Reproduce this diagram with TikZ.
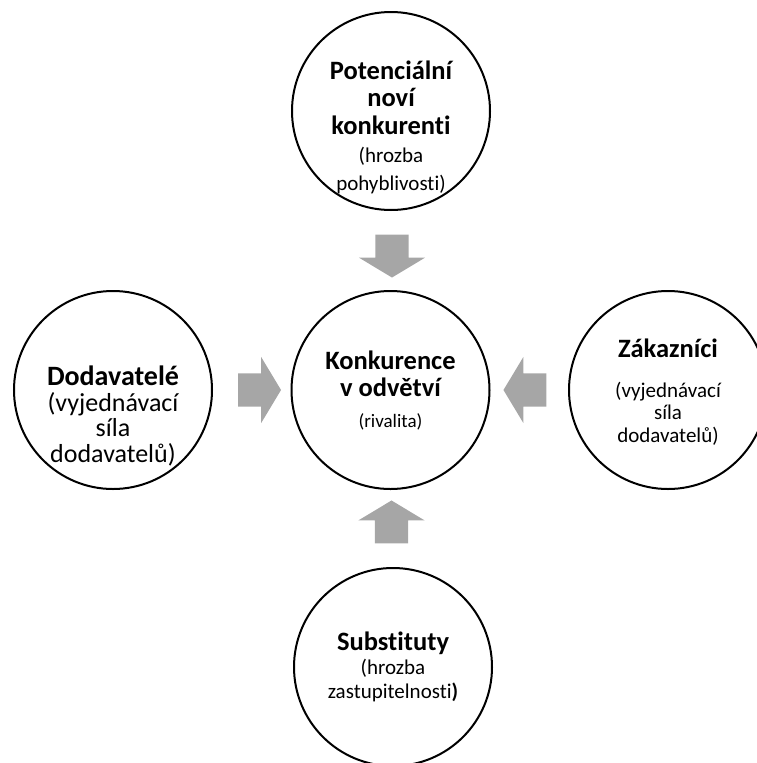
\documentclass[tikz,border=0pt]{standalone}
\usepackage{fontspec}
\setmainfont{Carlito}[Ligatures=NoCommon]
\usetikzlibrary{shapes.arrows}

\makeatletter
\newcommand{\hd}[2][26.5]{{\fontsize{#1}{\f@baselineskip}\selectfont\bfseries #2}}
\makeatother

\begin{document}
\begin{tikzpicture}[
    % GLOBAL SETTINGS
    x=1pt, y=-1pt,
    % STYLES
    force/.style={circle, draw=black, line width=2pt, minimum size=198pt, inner sep=0pt},
    force_text/.style 2 args={align=center, inner sep=0pt, font=\fontsize{#1}{#2}\selectfont},
    push/.style={single arrow, fill=black!35, draw=none, inner xsep=0pt, inner ysep=16.5pt,
        minimum width=66pt, minimum height=43pt, single arrow head extend=16.5pt,
        single arrow tip angle=118}
]

    \useasboundingbox (0,0) rectangle (757,763);

    % the five forces
    \node[force] (entrants)    at (391,111) {};
    \node[force] (rivalry)     at (390.5,390) {};
    \node[force] (suppliers)   at (113,390) {};
    \node[force] (buyers)      at (668,390) {};
    \node[force] (substitutes) at (393,667) {};

    % texts inside the circles
    \node[force_text={21}{27.75}, yshift=-16pt] (entrants_text) at (entrants)
        {\hd{Potenciální}\\ \hd{noví}\\ \hd{konkurenti}\\ (hrozba\\ pohyblivosti)};
    \node[force_text={19}{27}, yshift=-1pt] (rivalry_text) at (rivalry)
        {\hd{Konkurence}\\ \hd{v odvětví}\\[4pt] (rivalita)};
    \node[force_text={26}{25.5}, yshift=-26pt] (suppliers_text) at (suppliers)
        {\hd[28]{Dodavatelé}\\ (vyjednávací\\ síla\\ dodavatelů)};
    \node[force_text={21}{22.5}, yshift=-2pt] (buyers_text) at (buyers)
        {\hd{Zákazníci}\\[17.5pt] (vyjednávací\\ síla\\ dodavatelů)};
    \node[force_text={21}{24}] (substitutes_text) at (substitutes)
        {\hd{Substituty}\\ (hrozba\\ zastupitelnosti\textbf{)}};

    % block arrows towards the rivalry
    \node[push, rotate=-90] (push_n) at (392,251) {};
    \node[push]             (push_w) at (254.5,390) {};
    \node[push, rotate=180] (push_e) at (530,390) {};
    \node[push, rotate=90]  (push_s) at (391.5,527) {};

\end{tikzpicture}
\end{document}
